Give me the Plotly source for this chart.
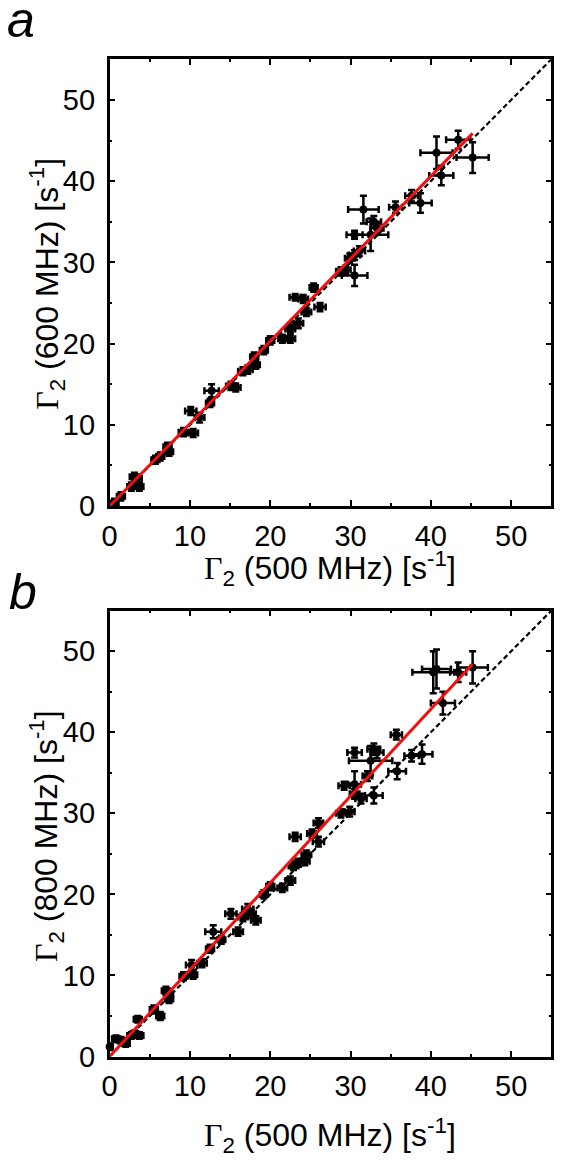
import plotly.graph_objects as go

# ---------------- data: panel a (600 vs 500 MHz) ----------------
x500_a = [0.6, 1.4, 2.7, 3.1, 3.4, 3.7, 5.7, 6.3, 7.2, 7.4, 9.2, 10.4, 10.1, 11.2, 12.5, 12.7,
          15.1, 15.7, 16.6, 17.2, 18.0, 18.2, 19.2, 20.0, 21.5, 22.5, 22.5, 23.5, 24.5, 23.1,
          24.1, 25.4, 26.2, 28.8, 29.4, 30.5, 29.9, 30.5, 31.1, 30.5, 31.6, 32.5, 32.9, 33.3,
          35.6, 37.6, 38.7, 40.7, 41.3, 43.4, 45.2]
y600_a = [0.4, 1.2, 2.4, 3.6, 3.4, 2.4, 5.7, 6.1, 7.3, 6.7, 9.1, 9.0, 11.7, 10.9, 12.7, 14.2,
          14.8, 14.6, 16.6, 16.8, 18.4, 17.4, 19.2, 20.4, 20.6, 20.6, 21.8, 22.5, 23.9, 25.7,
          25.5, 26.9, 24.5, 28.9, 29.1, 28.4, 30.5, 30.9, 31.4, 33.4, 36.5, 33.4, 35.0, 34.2,
          36.8, 38.2, 37.3, 43.5, 40.7, 45.1, 42.9]
xerr_a = [0.5, 0.5, 0.5, 0.6, 0.6, 0.5, 0.5, 0.5, 0.5, 0.5, 0.6, 0.6, 0.7, 0.6, 0.5, 0.9,
          0.6, 0.6, 0.6, 0.6, 0.5, 0.5, 0.5, 0.5, 0.5, 0.6, 0.6, 0.6, 0.6, 0.7,
          0.6, 0.5, 0.7, 0.6, 0.6, 1.6, 0.6, 0.7, 0.7, 1.0, 1.9, 2.2, 0.9, 0.8,
          0.8, 0.8, 1.4, 2.0, 1.5, 1.5, 2.0]
yerr_a = [0.5, 0.5, 0.5, 0.5, 0.5, 0.5, 0.5, 0.5, 0.5, 0.5, 0.5, 0.5, 0.5, 0.6, 0.5, 0.8,
          0.5, 0.5, 0.5, 0.5, 0.5, 0.5, 0.5, 0.5, 0.5, 0.5, 0.5, 0.6, 0.5, 0.4,
          0.5, 0.5, 0.5, 0.5, 0.5, 1.3, 0.6, 0.6, 0.6, 0.5, 1.7, 2.0, 0.7, 0.6,
          0.7, 0.7, 1.2, 2.0, 1.2, 1.1, 1.9]

# ---------------- data: panel b (800 vs 500 MHz) ----------------
x500_b = [0.0, 0.8, 1.4, 2.0, 2.7, 3.1, 3.5, 3.7, 5.5, 6.3, 7.0, 7.4, 7.4, 9.2, 10.2, 10.4,
          11.5, 12.5, 12.9, 13.9, 15.1, 16.0, 16.6, 17.2, 17.6, 18.2, 19.2, 20.0, 21.5, 22.5,
          22.9, 23.5, 24.3, 24.5, 23.1, 25.2, 26.0, 26.0, 28.8, 29.9, 29.2, 30.5, 30.5, 31.3,
          32.1, 32.9, 30.5, 32.5, 32.9, 33.3, 35.7, 35.8, 37.6, 38.9, 40.3, 40.7, 41.5, 43.4,
          45.2]
y800_b = [1.2, 2.2, 2.0, 1.6, 2.6, 2.8, 4.6, 2.6, 5.8, 5.0, 8.1, 7.7, 7.1, 9.9, 11.3, 10.1,
          11.5, 13.3, 15.4, 14.4, 17.6, 15.4, 17.2, 18.2, 17.6, 16.8, 20.0, 21.0, 20.8, 21.7,
          23.5, 23.9, 24.1, 24.9, 27.1, 27.5, 28.8, 26.5, 30.0, 30.2, 33.4, 33.6, 32.4, 31.8,
          34.6, 32.2, 37.5, 36.5, 37.9, 37.5, 39.7, 35.2, 37.1, 37.3, 47.4, 47.8, 43.6, 47.4,
          48.0]
xerr_b = [0.4, 0.5, 0.5, 0.5, 0.5, 0.5, 0.5, 0.5, 0.5, 0.5, 0.5, 0.5, 0.5, 0.5, 0.7, 0.5,
          0.6, 0.5, 1.0, 0.5, 0.7, 0.6, 0.6, 0.7, 0.6, 0.6, 0.5, 0.5, 0.6, 0.6,
          0.6, 0.6, 0.6, 0.6, 0.7, 0.6, 0.6, 0.7, 0.6, 0.6, 0.7, 0.8, 0.6, 0.7,
          0.6, 1.1, 0.9, 2.7, 0.8, 0.8, 0.7, 1.1, 0.9, 1.3, 2.6, 1.8, 1.5, 1.0,
          1.9]
yerr_b = [0.4, 0.4, 0.4, 0.4, 0.4, 0.4, 0.4, 0.4, 0.5, 0.5, 0.5, 0.5, 0.5, 0.5, 0.6, 0.5,
          0.5, 0.5, 0.8, 0.5, 0.6, 0.5, 0.5, 0.6, 0.5, 0.5, 0.5, 0.5, 0.5, 0.5,
          0.5, 0.5, 0.5, 0.5, 0.5, 0.5, 0.6, 0.6, 0.5, 0.6, 0.5, 1.6, 0.6, 0.6,
          0.6, 1.0, 0.6, 1.8, 0.7, 0.7, 0.6, 1.0, 0.7, 1.2, 2.6, 2.4, 1.4, 1.2,
          2.0]

# linear fits through the origin (slopes) and fitted range
fit_slope_a = 1.015
fit_slope_b = 1.071
fit_x = [0.0, 45.2]
identity = [0.0, 55.0]
tick_vals = [0, 10, 20, 30, 40, 50]

FONT = "Liberation Sans"
fig = go.Figure()


def add_panel(xv, yv, xe, ye, slope, xa, ya):
    fig.add_trace(go.Scatter(
        x=xv, y=yv, mode="markers", xaxis=xa, yaxis=ya, cliponaxis=False,
        marker=dict(color="black", size=8),
        error_x=dict(type="data", array=xe, color="black", thickness=2.5, width=3.5),
        error_y=dict(type="data", array=ye, color="black", thickness=2.5, width=3.5),
        showlegend=False, hoverinfo="skip"))
    fig.add_trace(go.Scatter(
        x=identity, y=identity, mode="lines", xaxis=xa, yaxis=ya,
        line=dict(color="black", width=2.2, dash="5px,3px"), showlegend=False))
    fig.add_trace(go.Scatter(
        x=fit_x, y=[slope * v for v in fit_x], mode="lines", xaxis=xa, yaxis=ya,
        line=dict(color="#f01010", width=3), showlegend=False))


add_panel(x500_a, y600_a, xerr_a, yerr_a, fit_slope_a, "x", "y")
add_panel(x500_b, y800_b, xerr_b, yerr_b, fit_slope_b, "x2", "y2")

axis_common = dict(
    range=[0, 55], tickvals=tick_vals, ticks="inside", ticklen=6, tickwidth=2,
    tickcolor="black", showline=True, linewidth=2.5, linecolor="black", mirror="ticks",
    showgrid=False, zeroline=False,
    tickfont=dict(family=FONT, size=29, color="black"),
    minor=dict(dtick=5, tick0=0, ticks="inside", ticklen=3, tickwidth=2,
               tickcolor="black", showgrid=False),
)

W, H = 565, 1173
xd = [95 / W, 543 / W]
fig.update_layout(
    width=W, height=H, margin=dict(l=0, r=0, t=0, b=0),
    paper_bgcolor="white", plot_bgcolor="white",
    xaxis=dict(domain=xd, anchor="y", ticklabelstandoff=2, **axis_common),
    yaxis=dict(domain=[1 - 505 / H, 1 - 52 / H], anchor="x", ticklabelstandoff=6, **axis_common),
    xaxis2=dict(domain=xd, anchor="y2", ticklabelstandoff=2, **axis_common),
    yaxis2=dict(domain=[1 - 1063 / H, 1 - 611 / H], anchor="x2", ticklabelstandoff=6, **axis_common),
)

G = "<span style=\"font-family:'Liberation Serif'\">Γ</span><sub>2</sub>"
title_font = dict(family=FONT, size=32, color="black")
ann = [
    dict(text=G + " (500 MHz) [s<sup>-1</sup>]", x=319 / W, y=1 - 568 / H),
    dict(text=G + " (500 MHz) [s<sup>-1</sup>]", x=319 / W, y=1 - 1143 / H),
    dict(text=G + " (600 MHz) [s<sup>-1</sup>]", x=31 / W, y=1 - 280 / H, textangle=-90),
    dict(text=G + " (800 MHz) [s<sup>-1</sup>]", x=31 / W, y=1 - 840 / H, textangle=-90),
]
for a in ann:
    fig.add_annotation(xref="paper", yref="paper", showarrow=False,
                       xanchor="center", yanchor="middle", font=title_font, **a)

letter_font = dict(family=FONT, size=50, color="black")
fig.add_annotation(text="<i>a</i>", x=-11 / W, y=1 + 18 / H, xref="paper", yref="paper",
                   showarrow=False, xanchor="left", yanchor="top", font=letter_font)
fig.add_annotation(text="<i>b</i>", x=-9 / W, y=1 - 562 / H, xref="paper", yref="paper",
                   showarrow=False, xanchor="left", yanchor="top", font=letter_font)

fig.write_html("out.html")
